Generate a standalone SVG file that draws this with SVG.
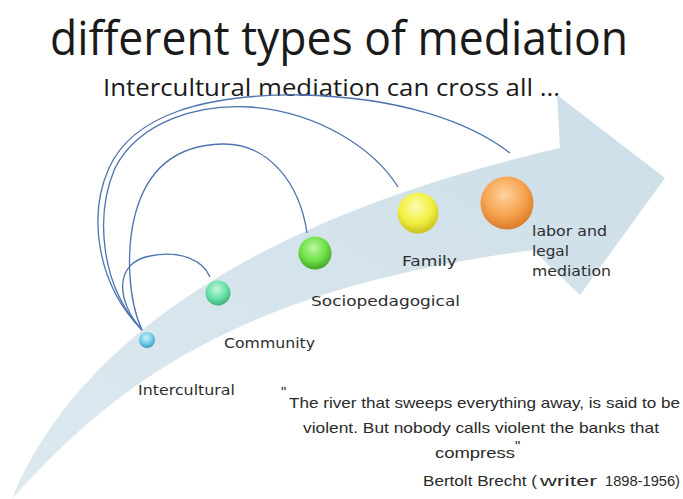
<svg xmlns="http://www.w3.org/2000/svg" width="683" height="499" viewBox="0 0 683 499">
  <style>
    .lbl { font-family: "DejaVu Sans", "Liberation Sans", sans-serif; font-size: 14.5px; fill: #2e2e2e; }
    .title { font-family: "Open Sans", "Liberation Sans", sans-serif; fill: #1a1a1a; }
    .quote { font-family: "Liberation Sans", "Open Sans", sans-serif; font-size: 15px; fill: #2a2a2a; }
    .arc { fill: none; stroke: #4d72b0; stroke-width: 1.3; }
  </style>
  <defs>
    <linearGradient id="arrowFill" x1="0" y1="1" x2="1" y2="0">
      <stop offset="0" stop-color="#dde9f0"/>
      <stop offset="1" stop-color="#cddee8"/>
    </linearGradient>
    <radialGradient id="gBlue" cx="0.45" cy="0.35" r="0.65">
      <stop offset="0" stop-color="#c8f0fb"/>
      <stop offset="0.6" stop-color="#6fcbe6"/>
      <stop offset="1" stop-color="#3d9cc0"/>
    </radialGradient>
    <radialGradient id="gMint" cx="0.45" cy="0.35" r="0.65">
      <stop offset="0" stop-color="#c4f7dd"/>
      <stop offset="0.6" stop-color="#66e0a8"/>
      <stop offset="1" stop-color="#3fb07a"/>
    </radialGradient>
    <radialGradient id="gGreen" cx="0.45" cy="0.35" r="0.65">
      <stop offset="0" stop-color="#b8f7a0"/>
      <stop offset="0.6" stop-color="#6ee046"/>
      <stop offset="1" stop-color="#43a82a"/>
    </radialGradient>
    <radialGradient id="gYellow" cx="0.45" cy="0.35" r="0.65">
      <stop offset="0" stop-color="#fbfbb0"/>
      <stop offset="0.6" stop-color="#f3f040"/>
      <stop offset="1" stop-color="#c8c21e"/>
    </radialGradient>
    <radialGradient id="gOrange" cx="0.45" cy="0.35" r="0.65">
      <stop offset="0" stop-color="#fdd3a0"/>
      <stop offset="0.6" stop-color="#f7a24e"/>
      <stop offset="1" stop-color="#d97c2a"/>
    </radialGradient>
  </defs>

  <rect width="683" height="499" fill="#ffffff"/>

  <g id="title">
    <text class="title" x="50" y="55" font-size="48" textLength="578" lengthAdjust="spacingAndGlyphs">different types of mediation</text>
    <text class="title" x="103" y="96" font-size="23" textLength="457" lengthAdjust="spacingAndGlyphs">Intercultural mediation  can cross all ...</text>
  </g>

  <g id="arrow">
    <path d="M12,499 C60,380 200,230 560,148 L557,95 L665,178 L580,295 L533,250 C230,290 110,390 12,499 Z" fill="url(#arrowFill)"/>
  </g>

  <g id="connectors">
    <path class="arc" d="M142,330 C115,300 115,262 150,256 C180,250 203,260 210,277"/>
    <path class="arc" d="M142,330 C128,300 126,250 135,215 C148,165 180,145 222,144 C270,143 300,185 307,233"/>
    <path class="arc" d="M142,330 C100,285 95,215 115,168 C140,120 200,104 250,107 C320,112 375,150 398,187"/>
    <path class="arc" d="M142,330 C96,283 88,215 109,168 C133,115 205,94 300,95 C400,97 470,122 510,153"/>
  </g>

  <g id="node-intercultural">
    <circle cx="147" cy="340" r="8" fill="url(#gBlue)"/>
    <text class="lbl" x="138" y="395" textLength="97" lengthAdjust="spacingAndGlyphs">Intercultural</text>
  </g>
  <g id="node-community">
    <circle cx="218" cy="293" r="12.5" fill="url(#gMint)"/>
    <text class="lbl" x="224" y="348" textLength="91" lengthAdjust="spacingAndGlyphs">Community</text>
  </g>
  <g id="node-sociopedagogical">
    <circle cx="315" cy="253" r="16.5" fill="url(#gGreen)"/>
    <text class="lbl" x="311" y="306" textLength="149" lengthAdjust="spacingAndGlyphs">Sociopedagogical</text>
  </g>
  <g id="node-family">
    <circle cx="418" cy="213" r="20.5" fill="url(#gYellow)"/>
    <text class="lbl" x="402" y="266" textLength="55" lengthAdjust="spacingAndGlyphs">Family</text>
  </g>
  <g id="node-labor">
    <circle cx="507" cy="203" r="26.5" fill="url(#gOrange)"/>
    <text class="lbl" x="532" y="236" textLength="75" lengthAdjust="spacingAndGlyphs">labor and</text>
    <text class="lbl" x="532" y="256" textLength="37" lengthAdjust="spacingAndGlyphs">legal</text>
    <text class="lbl" x="532" y="276" textLength="79" lengthAdjust="spacingAndGlyphs">mediation</text>
  </g>

  <g id="quote">
    <text class="quote" x="281" y="397" font-size="9">"</text>
    <text class="quote" x="289" y="408" textLength="391" lengthAdjust="spacingAndGlyphs">The river that sweeps everything away, is said to be</text>
    <text class="quote" x="303" y="433" textLength="356" lengthAdjust="spacingAndGlyphs">violent. But nobody calls violent the banks that</text>
    <text class="quote" x="435" y="458" textLength="80" lengthAdjust="spacingAndGlyphs">compress</text>
    <text class="quote" x="515" y="451" font-size="9">"</text>
    <text class="quote" x="423" y="486" textLength="114" lengthAdjust="spacingAndGlyphs">Bertolt Brecht (</text>
    <text class="quote" x="540" y="486" font-size="19" textLength="57" lengthAdjust="spacingAndGlyphs">writer</text>
    <text class="quote" x="605" y="486" font-size="13" textLength="75" lengthAdjust="spacingAndGlyphs">1898-1956)</text>
  </g>
</svg>
